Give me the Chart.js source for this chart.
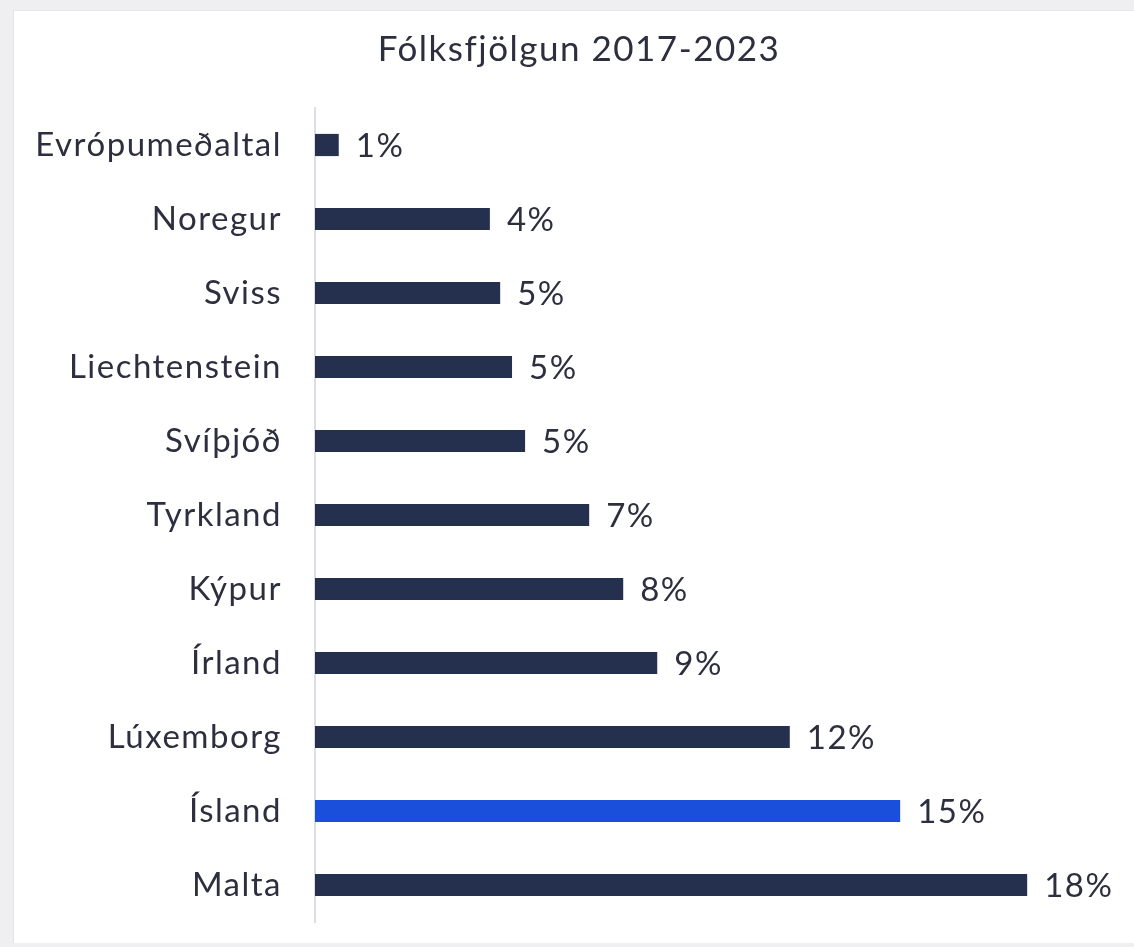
<!DOCTYPE html>
<html>
<head>
<meta charset="utf-8">
<script src="https://cdn.jsdelivr.net/npm/chart.js@4/dist/chart.umd.min.js"></script>
<style>
  html, body { margin:0; padding:0; width:1134px; height:947px; background:#efeff2; overflow:hidden; }
  #card { position:absolute; left:13px; top:10px; right:0; bottom:4px; background:#ffffff; border-left:1px solid #e2e2e8; border-top:1px solid #e6e6ec; }
  #wrap { position:absolute; left:0; top:0; width:1134px; height:947px; }
</style>
</head>
<body>
<div id="card"></div>
<div id="wrap"><canvas id="c" width="1134" height="947"></canvas></div>
<script>
const categories = ["Evrópumeðaltal","Noregur","Sviss","Liechtenstein","Svíþjóð","Tyrkland","Kýpur","Írland","Lúxemborg","Ísland","Malta"];
const growth = [0.6, 4.42, 4.68, 4.98, 5.31, 6.93, 7.79, 8.65, 12.0, 14.79, 18.0];
const highlight = "Ísland";
const titleText = "Fólksfjölgun 2017-2023";

const navy = "#25304f";
const blue = "#1a4fdc";
const textColor = "#2d2f3f";

const spacing = {
  id: 'spacing',
  beforeDraw(chart) { chart.ctx.letterSpacing = '1.5px'; }
};

const valueLabels = {
  id: 'valueLabels',
  afterDatasetsDraw(chart) {
    const ctx = chart.ctx;
    const meta = chart.getDatasetMeta(0);
    ctx.save();
    ctx.letterSpacing = '1.5px';
    ctx.font = '33px Lato';
    ctx.fillStyle = textColor;
    ctx.textAlign = 'left';
    ctx.textBaseline = 'middle';
    meta.data.forEach((bar, i) => {
      ctx.fillText(Math.round(growth[i]) + '%', bar.x + 17, bar.y + 1);
    });
    ctx.restore();
  }
};

new Chart(document.getElementById('c'), {
  type: 'bar',
  data: {
    labels: categories,
    datasets: [{
      data: growth,
      backgroundColor: categories.map(c => c === highlight ? blue : navy),
      borderWidth: 0,
      categoryPercentage: 1.0,
      barPercentage: 0.3
    }]
  },
  options: {
    indexAxis: 'y',
    responsive: false,
    animation: false,
    layout: { padding: { left: 24, right: 0, top: 0, bottom: 25 } },
    plugins: {
      legend: { display: false },
      tooltip: { enabled: false },
      title: {
        display: true,
        text: titleText,
        color: textColor,
        font: { family: 'Lato', size: 35, weight: 'normal', lineHeight: 1.2 },
        padding: { top: 29, bottom: 37 }
      }
    },
    scales: {
      x: { display: false, min: 0, max: 20.7 },
      y: {
        grid: { display: false },
        border: { display: true, color: '#dcdde6', width: 2 },
        ticks: { color: textColor, font: { family: 'Lato', size: 33 }, padding: 25 },
        afterFit(scale) { scale.width = 291; scale.paddingTop = 0; scale.paddingBottom = 0; }
      }
    }
  },
  plugins: [spacing, valueLabels]
});
</script>
</body>
</html>
